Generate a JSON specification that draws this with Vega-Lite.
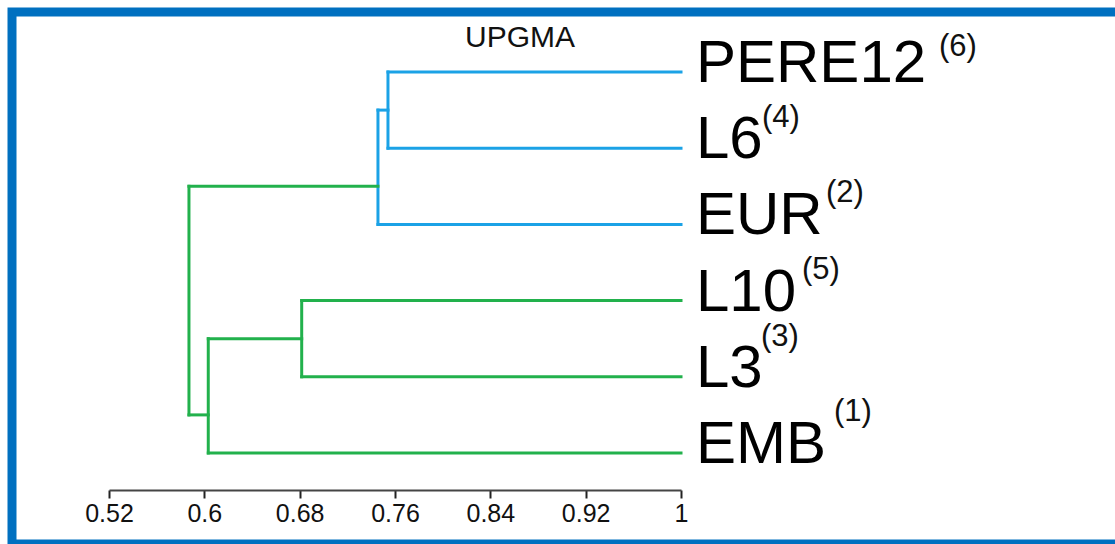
{
  "$schema": "https://vega.github.io/schema/vega-lite/v6.json",
  "width": 1108,
  "height": 532,
  "autosize": {"type": "none"},
  "padding": {"left": 12, "top": 12, "right": -5, "bottom": 0},
  "background": "white",
  "config": {"view": {"stroke": "#0070C0", "strokeWidth": 9, "fill": "white"}},
  "title": {"text": "UPGMA", "orient": "none", "anchor": "start", "frame": "group", "dx": 453, "dy": 35, "offset": 0, "baseline": "alphabetic", "fontSize": 30, "font": "Liberation Sans", "fontWeight": "normal", "color": "#111111"},
  "datasets": {
    "segments": [
      {"x1": 0.7541, "x2": 1, "y1": 0, "y2": 0, "cluster": "blue"},
      {"x1": 0.7541, "x2": 1, "y1": 1, "y2": 1, "cluster": "blue"},
      {"x1": 0.7541, "x2": 0.7541, "y1": 0, "y2": 1, "cluster": "blue"},
      {"x1": 0.7457, "x2": 0.7541, "y1": 0.5, "y2": 0.5, "cluster": "blue"},
      {"x1": 0.7457, "x2": 1, "y1": 2, "y2": 2, "cluster": "blue"},
      {"x1": 0.7457, "x2": 0.7457, "y1": 0.5, "y2": 2, "cluster": "blue"},
      {"x1": 0.5871, "x2": 0.7457, "y1": 1.5, "y2": 1.5, "cluster": "green"},
      {"x1": 0.5871, "x2": 0.5871, "y1": 1.5, "y2": 4.5, "cluster": "green"},
      {"x1": 0.5871, "x2": 0.6033, "y1": 4.5, "y2": 4.5, "cluster": "green"},
      {"x1": 0.6033, "x2": 0.6033, "y1": 3.5, "y2": 5, "cluster": "green"},
      {"x1": 0.6033, "x2": 0.6817, "y1": 3.5, "y2": 3.5, "cluster": "green"},
      {"x1": 0.6817, "x2": 0.6817, "y1": 3, "y2": 4, "cluster": "green"},
      {"x1": 0.6817, "x2": 1, "y1": 3, "y2": 3, "cluster": "green"},
      {"x1": 0.6817, "x2": 1, "y1": 4, "y2": 4, "cluster": "green"},
      {"x1": 0.6033, "x2": 1, "y1": 5, "y2": 5, "cluster": "green"}
    ],
    "leaves": [
      {"label": "PERE12", "sup": "(6)", "height": 1, "pos": 0},
      {"label": "L6", "sup": "(4)", "height": 1, "pos": 1},
      {"label": "EUR", "sup": "(2)", "height": 1, "pos": 2},
      {"label": "L10", "sup": "(5)", "height": 1, "pos": 3},
      {"label": "L3", "sup": "(3)", "height": 1, "pos": 4},
      {"label": "EMB", "sup": "(1)", "height": 1, "pos": 5}
    ]
  },
  "layer": [
    {
      "data": {"name": "segments"},
      "mark": {"type": "rule", "strokeWidth": 3, "strokeCap": "square"},
      "encoding": {
        "x": {"field": "x1", "type": "quantitative",
          "scale": {"domain": [0.52, 1], "range": [97, 669], "nice": false, "zero": false},
          "axis": {"values": [0.52, 0.6, 0.68, 0.76, 0.84, 0.92, 1], "format": "~g", "title": null, "grid": false, "offset": -54,
            "tickSize": 8, "tickWidth": 2, "tickColor": "#222222", "domainColor": "#444444", "domainWidth": 2,
            "labelFontSize": 25, "labelFont": "Liberation Sans", "labelColor": "#111111", "labelPadding": 3, "labelFlush": false, "labelOverlap": false}},
        "x2": {"field": "x2"},
        "y": {"field": "y1", "type": "quantitative", "scale": {"domain": [0, 5], "range": [60, 441], "nice": false, "zero": false}, "axis": null},
        "y2": {"field": "y2"},
        "color": {"field": "cluster", "type": "nominal", "scale": {"domain": ["blue", "green"], "range": ["#1BA2E6", "#22B14C"]}, "legend": null}
      }
    },
    {
      "data": {"name": "leaves"},
      "mark": {"type": "text", "align": "left", "baseline": "alphabetic", "dx": 15, "dy": 10, "fontSize": 60, "font": "Liberation Sans", "color": "#000000"},
      "encoding": {"x": {"field": "height", "type": "quantitative"}, "y": {"field": "pos", "type": "quantitative"}, "text": {"field": "label"}}
    },
    {
      "data": {"name": "leaves"},
      "transform": [{"filter": "datum.label === 'PERE12'"}],
      "mark": {"type": "text", "align": "left", "baseline": "alphabetic", "dx": 258, "dy": -16, "fontSize": 31, "font": "Liberation Sans", "color": "#111111"},
      "encoding": {"x": {"field": "height", "type": "quantitative"}, "y": {"field": "pos", "type": "quantitative"}, "text": {"field": "sup"}}
    },
    {
      "data": {"name": "leaves"},
      "transform": [{"filter": "datum.label === 'L6'"}],
      "mark": {"type": "text", "align": "left", "baseline": "alphabetic", "dx": 81, "dy": -21, "fontSize": 31, "font": "Liberation Sans", "color": "#111111"},
      "encoding": {"x": {"field": "height", "type": "quantitative"}, "y": {"field": "pos", "type": "quantitative"}, "text": {"field": "sup"}}
    },
    {
      "data": {"name": "leaves"},
      "transform": [{"filter": "datum.label === 'EUR'"}],
      "mark": {"type": "text", "align": "left", "baseline": "alphabetic", "dx": 145, "dy": -22, "fontSize": 31, "font": "Liberation Sans", "color": "#111111"},
      "encoding": {"x": {"field": "height", "type": "quantitative"}, "y": {"field": "pos", "type": "quantitative"}, "text": {"field": "sup"}}
    },
    {
      "data": {"name": "leaves"},
      "transform": [{"filter": "datum.label === 'L10'"}],
      "mark": {"type": "text", "align": "left", "baseline": "alphabetic", "dx": 121, "dy": -22, "fontSize": 31, "font": "Liberation Sans", "color": "#111111"},
      "encoding": {"x": {"field": "height", "type": "quantitative"}, "y": {"field": "pos", "type": "quantitative"}, "text": {"field": "sup"}}
    },
    {
      "data": {"name": "leaves"},
      "transform": [{"filter": "datum.label === 'L3'"}],
      "mark": {"type": "text", "align": "left", "baseline": "alphabetic", "dx": 80, "dy": -31, "fontSize": 31, "font": "Liberation Sans", "color": "#111111"},
      "encoding": {"x": {"field": "height", "type": "quantitative"}, "y": {"field": "pos", "type": "quantitative"}, "text": {"field": "sup"}}
    },
    {
      "data": {"name": "leaves"},
      "transform": [{"filter": "datum.label === 'EMB'"}],
      "mark": {"type": "text", "align": "left", "baseline": "alphabetic", "dx": 153, "dy": -32, "fontSize": 31, "font": "Liberation Sans", "color": "#111111"},
      "encoding": {"x": {"field": "height", "type": "quantitative"}, "y": {"field": "pos", "type": "quantitative"}, "text": {"field": "sup"}}
    }
  ]
}
